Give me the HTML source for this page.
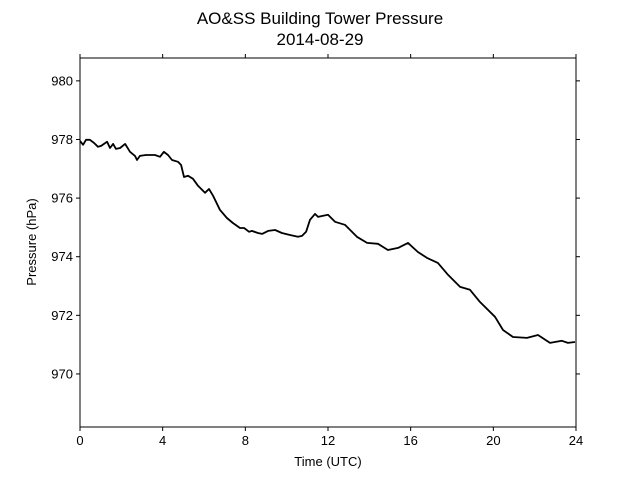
<!DOCTYPE html>
<html><head><meta charset="utf-8"><style>
body{margin:0;background:#fff}
svg{display:block;font-family:"Liberation Sans","DejaVu Sans",sans-serif}
</style></head><body>
<svg id="chart" width="640" height="480" viewBox="0 0 640 480" xmlns="http://www.w3.org/2000/svg">
<rect width="640" height="480" fill="#fff"/>
<text x="320" y="24" font-size="17" text-anchor="middle">AO&amp;SS Building Tower Pressure</text>
<text x="320" y="45" font-size="17" text-anchor="middle">2014-08-29</text>
<g id="axes"></g>
<text x="328" y="466" font-size="13" text-anchor="middle">Time (UTC)</text>
<text transform="translate(36,242) rotate(-90)" font-size="13" text-anchor="middle">Pressure (hPa)</text>
</svg>
<script>
const hours=[0,0.15,0.29,0.48,0.68,0.87,1.02,1.31,1.45,1.6,1.74,1.94,2.18,2.42,2.66,2.76,2.9,3.19,3.63,3.87,4.06,4.26,4.45,4.74,4.89,5.03,5.23,5.47,5.71,6.05,6.24,6.44,6.77,7.11,7.4,7.74,7.94,8.18,8.32,8.61,8.81,9.1,9.44,9.77,10.16,10.55,10.74,10.94,11.13,11.37,11.52,11.71,12,12.34,12.82,13.4,13.89,14.42,14.9,15.39,15.87,16.35,16.79,17.32,17.81,18.39,18.87,19.35,20.08,20.47,20.95,21.63,22.16,22.74,23.32,23.61,23.95];
const pressure=[977.95,977.82,977.99,977.99,977.88,977.75,977.78,977.92,977.71,977.85,977.68,977.71,977.85,977.58,977.44,977.3,977.44,977.47,977.47,977.41,977.58,977.47,977.3,977.24,977.13,976.72,976.76,976.66,976.42,976.18,976.31,976.08,975.6,975.32,975.15,974.98,974.98,974.85,974.88,974.81,974.78,974.88,974.91,974.81,974.74,974.68,974.71,974.85,975.26,975.46,975.36,975.39,975.43,975.19,975.09,974.68,974.47,974.44,974.23,974.3,974.47,974.16,973.96,973.79,973.38,972.97,972.87,972.46,971.95,971.5,971.26,971.23,971.33,971.06,971.13,971.06,971.09];
const xTicks=[0,4,8,12,16,20,24];
const yTicks=[970,972,974,976,978,980];
const L=80,R=576,T=58,B=427,xMin=0,xMax=24,yMin=968.19,yMax=980.78;
const X=v=>L+(v-xMin)/(xMax-xMin)*(R-L);
const Y=v=>B-(v-yMin)/(yMax-yMin)*(B-T);
const NS="http://www.w3.org/2000/svg";
const g=document.getElementById('axes');
function mk(t,a){const e=document.createElementNS(NS,t);for(const k in a)e.setAttribute(k,a[k]);g.appendChild(e);return e;}
let d=hours.map((h,i)=>(i?'L':'M')+X(h).toFixed(1)+','+Y(pressure[i]).toFixed(1)).join('');
const line=mk('path',{d:d,fill:'none',stroke:'#000','stroke-width':1.8,'stroke-linejoin':'round'});


const frame=mk('rect',{x:L,y:T,width:R-L,height:B-T,fill:'none',stroke:'#000','stroke-width':1});


xTicks.forEach(t=>{const x=X(t);
mk('line',{x1:x,x2:x,y1:B,y2:B+4,stroke:'#000'});
mk('line',{x1:x,x2:x,y1:T,y2:T-4,stroke:'#000'});
const tx=mk('text',{x:x,y:B+18,'font-size':13,'text-anchor':'middle'});tx.textContent=t;

});
yTicks.forEach(t=>{const y=Y(t);
mk('line',{x1:L,x2:L-4,y1:y,y2:y,stroke:'#000'});
mk('line',{x1:R,x2:R+4,y1:y,y2:y,stroke:'#000'});
const tx=mk('text',{x:L-7,y:y+4.5,'font-size':13,'text-anchor':'end'});tx.textContent=t;

});
</script>
</body></html>
